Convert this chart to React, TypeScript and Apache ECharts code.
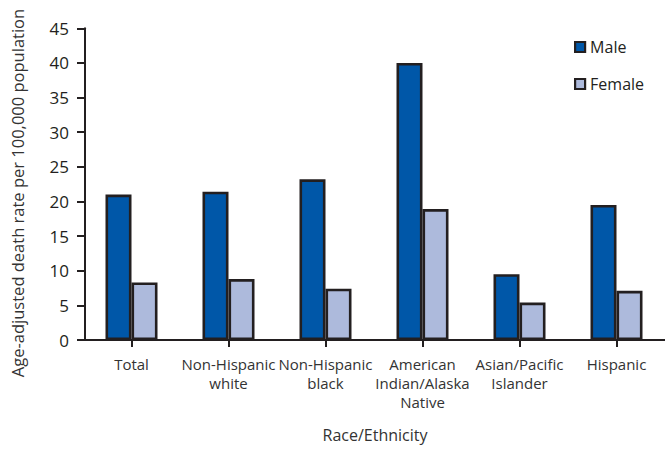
import React, { useEffect, useRef } from "react";
import * as echarts from "echarts";

const categories = [
  "Total",
  "Non-Hispanic\nwhite",
  "Non-Hispanic\nblack",
  "American\nIndian/Alaska\nNative",
  "Asian/Pacific\nIslander",
  "Hispanic",
];
const maleValues = [21.0, 21.4, 23.2, 40.0, 9.5, 19.5];
const femaleValues = [8.3, 8.8, 7.4, 18.9, 5.4, 7.1];
const yTicks = { min: 0, max: 45, interval: 5 };
const yTitle = "Age-adjusted death rate per 100,000 population";
const xTitle = "Race/Ethnicity";

const FONT = "'Open Sans', sans-serif";
const DARK = "#231f20";

export default function App() {
  const ref = useRef<HTMLDivElement>(null);
  useEffect(() => {
    if (!ref.current) return;
    const chart = echarts.init(ref.current, null, { renderer: "svg" });
    chart.setOption({
      animation: false,
      backgroundColor: "#ffffff",
      textStyle: { fontFamily: FONT },
      legend: {
        orient: "vertical",
        left: 574,
        top: 39,
        padding: 0,
        itemWidth: 10,
        itemHeight: 10,
        itemGap: 21,
        itemStyle: { borderColor: DARK, borderWidth: 2.2 },
        icon: "rect",
        textStyle: { fontSize: 16, color: DARK, fontFamily: FONT },
        data: ["Male", "Female"],
      },
      grid: [
        { left: 83, width: 586, top: 28.3, bottom: 109 },
        { left: 85, right: 0, top: 28.3, bottom: 109 },
      ],
      xAxis: [
        {
          type: "category",
          gridIndex: 0,
          data: categories,
          axisLine: { show: false },
          axisTick: { show: true, alignWithLabel: true, length: 7, lineStyle: { color: DARK, width: 2 } },
          axisLabel: {
            interval: 0,
            margin: 14,
            fontSize: 15,
            lineHeight: 19,
            color: "#333",
            fontFamily: FONT,
          },
        },
        {
          type: "value",
          gridIndex: 1,
          min: 0,
          max: 1,
          axisLine: { show: true, onZero: false, lineStyle: { color: DARK, width: 2 } },
          axisTick: { show: false },
          axisLabel: { show: false },
          splitLine: { show: false },
          name: xTitle,
          nameLocation: "middle",
          nameGap: 87,
          nameTextStyle: { fontSize: 16, color: "#333", fontFamily: FONT },
        },
      ],
      yAxis: [
        {
          type: "value",
          gridIndex: 0,
          min: yTicks.min,
          max: yTicks.max,
          interval: yTicks.interval,
          show: false,
        },
        {
          type: "value",
          gridIndex: 1,
          min: yTicks.min,
          max: yTicks.max,
          interval: yTicks.interval,
          axisLine: { show: true, lineStyle: { color: DARK, width: 2 } },
          axisTick: { show: true, length: 8, lineStyle: { color: DARK, width: 2 } },
          axisLabel: { fontSize: 17, color: DARK, margin: 16, fontFamily: FONT },
          splitLine: { show: false },
        },
      ],
      graphic: [
        {
          type: "text",
          x: 17,
          y: 193,
          rotation: Math.PI / 2,
          style: {
            text: yTitle,
            fontSize: 16.5,
            fill: "#333",
            fontFamily: FONT,
            align: "center",
            verticalAlign: "middle",
          },
        },
      ],
      series: [
        {
          name: "Male",
          type: "bar",
          xAxisIndex: 0,
          yAxisIndex: 0,
          data: maleValues,
          barWidth: 26,
          barGap: "0%",
          itemStyle: { color: "#0057a8", borderColor: DARK, borderWidth: 2.6 },
        },
        {
          name: "Female",
          type: "bar",
          xAxisIndex: 0,
          yAxisIndex: 0,
          data: femaleValues,
          barWidth: 26,
          barGap: "0%",
          itemStyle: { color: "#adbadc", borderColor: DARK, borderWidth: 2.6 },
        },
      ],
    });
    return () => chart.dispose();
  }, []);
  return <div ref={ref} style={{ width: 665, height: 449, position: "absolute", left: 0, top: 0 }} />;
}
